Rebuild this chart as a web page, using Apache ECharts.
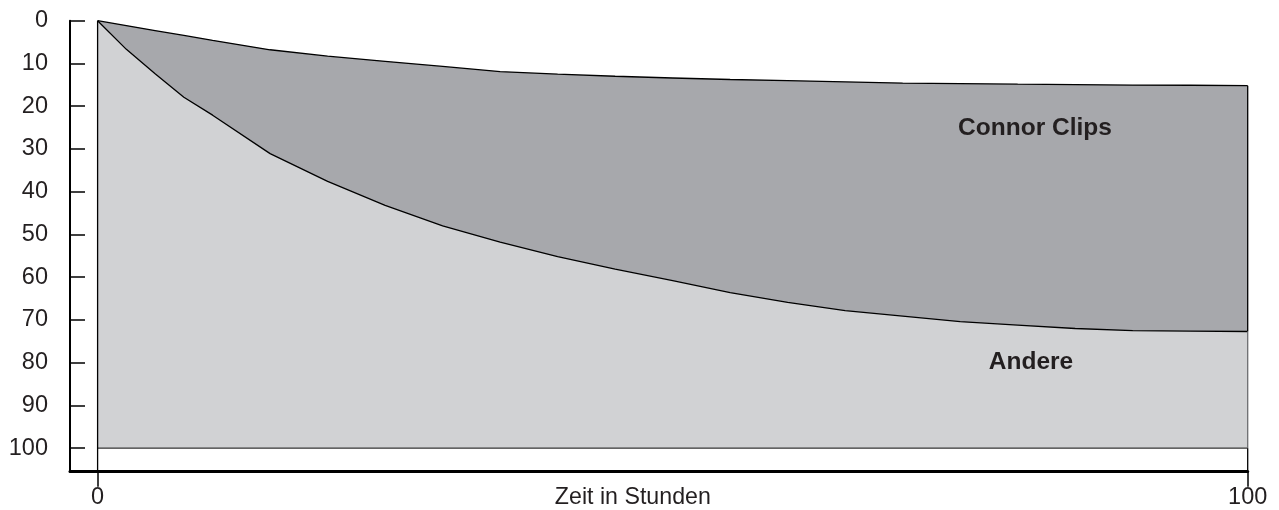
<!DOCTYPE html>
<html><head><meta charset="utf-8">
<script src="https://cdn.jsdelivr.net/npm/echarts@6/dist/echarts.min.js"></script>
<style>html,body{margin:0;padding:0;background:#fff}#c{width:1279px;height:510px}</style>
</head><body><div id="c"></div>
<script>
// Data
const hours = [0, 2.5, 5, 7.5, 10, 15, 20, 25, 30, 35, 40, 45, 50, 55, 60, 65, 70, 75, 80, 85, 90, 95, 100];
const connorClipsEdge = [0, 1.15, 2.3, 3.45, 4.6, 6.8, 8.3, 9.5, 10.7, 11.9, 12.5, 13.0, 13.4, 13.75, 14.0, 14.3, 14.6, 14.7, 14.85, 14.95, 15.05, 15.1, 15.2];
const andereEdge = [0, 6.7, 12.4, 17.9, 22.1, 31.1, 37.6, 43.2, 48.0, 51.8, 55.2, 58.1, 60.8, 63.6, 65.9, 67.8, 69.1, 70.4, 71.2, 72.0, 72.5, 72.6, 72.7];
const yTickValues = [0, 10, 20, 30, 40, 50, 60, 70, 80, 90, 100];
const xTickValues = [0, 100];
const baseline = 100;
const yAxisMax = 105.5;
const xAxisMin = -2.4;
const xAxisName = 'Zeit in Stunden';
const labelConnor = 'Connor Clips';
const labelAndere = 'Andere';

const font = "'Liberation Sans', Arial, Helvetica, sans-serif";
const pair = ys => hours.map((x, i) => [x, ys[i]]);
const first = hours[0], last = hours[hours.length - 1];
const lastC = connorClipsEdge[connorClipsEdge.length - 1];
const lastA = andereEdge[andereEdge.length - 1];

const chart = echarts.init(document.getElementById('c'), null, {renderer: 'canvas'});
const edge = (data, color) => ({
  type: 'line', data, symbol: 'none', clip: false, silent: true,
  lineStyle: {color, width: 1.3}, z: 5
});
chart.setOption({
  animation: false,
  grid: {left: 70, right: 31.3, top: 20.7, bottom: 38.3, outerBoundsMode: 'none', containLabel: false},
  xAxis: {
    type: 'value', min: xAxisMin, max: last,
    axisLine: {onZero: false, lineStyle: {color: '#000', width: 3}},
    axisTick: {show: true, inside: false, length: 15, customValues: xTickValues, lineStyle: {color: '#000', width: 1.5}},
    axisLabel: {customValues: xTickValues, margin: 14, fontSize: 23.5, color: '#231f20', fontFamily: font},
    splitLine: {show: false},
    name: xAxisName, nameLocation: 'middle', nameGap: 14, nameMoveOverlap: false,
    nameTextStyle: {fontSize: 23.2, color: '#231f20', fontFamily: font, padding: [0, 52, 0, 0], verticalAlign: 'top'}
  },
  yAxis: {
    type: 'value', inverse: true, min: 0, max: yAxisMax,
    axisLine: {show: true, onZero: false, lineStyle: {color: '#000', width: 2}},
    axisTick: {show: true, inside: true, length: 15, customValues: yTickValues, lineStyle: {color: '#000', width: 1.5}},
    axisLabel: {customValues: yTickValues, margin: 22, fontSize: 23.5, color: '#231f20', fontFamily: font},
    splitLine: {show: false}
  },
  series: [
    {type: 'line', name: labelConnor, data: pair(connorClipsEdge), symbol: 'none', silent: true,
     lineStyle: {color: '#000', width: 1.3}, areaStyle: {color: '#a7a8ac', opacity: 1, origin: baseline}, z: 2},
    {type: 'line', name: labelAndere, data: pair(andereEdge), symbol: 'none', silent: true,
     lineStyle: {color: '#000', width: 1.3}, areaStyle: {color: '#d1d2d4', opacity: 1, origin: baseline}, z: 3},
    edge([[first, baseline], [last, baseline]], '#3a3a3a'),
    edge([[first, 0], [first, yAxisMax]], '#000'),
    edge([[last, lastC], [last, lastA]], '#000'),
    edge([[last, lastA], [last, baseline]], '#6d6e71'),
    edge([[last, baseline], [last, yAxisMax]], '#000')
  ],
  graphic: [
    {type: 'text', x: 1035, y: 128, z: 100, silent: true,
     style: {text: labelConnor, font: "bold 24.5px 'Liberation Sans', Arial, sans-serif", fill: '#231f20', align: 'center', verticalAlign: 'middle'}},
    {type: 'text', x: 1031, y: 362, z: 100, silent: true,
     style: {text: labelAndere, font: "bold 24.5px 'Liberation Sans', Arial, sans-serif", fill: '#231f20', align: 'center', verticalAlign: 'middle'}}
  ]
});
</script>
</body></html>
